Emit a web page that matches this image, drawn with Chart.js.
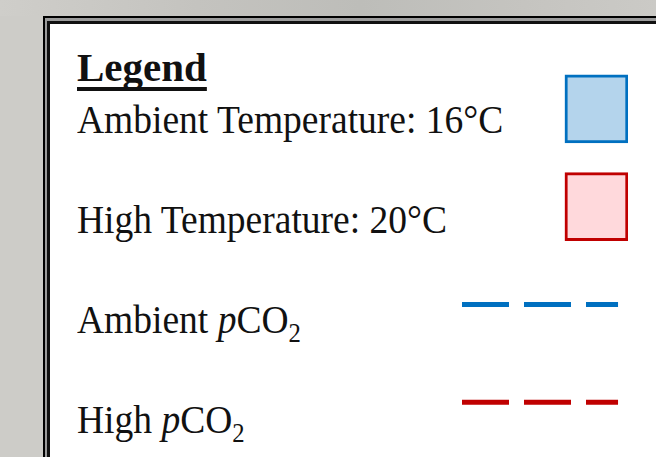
<!DOCTYPE html>
<html>
<head>
<meta charset="utf-8">
<title>Legend</title>
<script src="https://cdn.jsdelivr.net/npm/chart.js@4.4.1/dist/chart.umd.min.js"></script>
<style>
  html, body { margin: 0; padding: 0; width: 656px; height: 457px; overflow: hidden; }
  body {
    position: relative;
    background: #cdccc8;
    font-family: "Liberation Serif", "Times New Roman", serif;
    color: #111;
  }
  .topband {
    position: absolute; left: 0; top: 0; width: 656px; height: 16px;
    background: linear-gradient(90deg, #cfceca 0%, #c4c3bf 30%, #bdbdb9 55%, #c5c4c0 80%, #cbcac6 100%);
  }
  .frame {
    position: absolute; left: 43px; top: 16px; width: 700px; height: 500px;
    box-sizing: border-box; border: 2px solid #000; background: #9b9b9b;
    padding: 3px 0 0 2px;
  }
  .inner { width: 100%; height: 100%; box-sizing: border-box; border: 3px solid #111; background: #fff; }
  .row {
    position: absolute; left: 77px; white-space: nowrap;
    font-size: 41px; line-height: 41px;
    transform-origin: 0 0; transform: scaleX(0.915);
  }
  .title {
    font-weight: bold; transform: none;
    text-decoration: underline; text-decoration-thickness: 4px; text-underline-offset: 6px;
    text-decoration-skip-ink: none;
  }
  .sub { font-size: 27px; line-height: 0; position: relative; top: 9px; }
  #keys { position: absolute; left: 462px; top: 60px; width: 166px; height: 391px; }
</style>
</head>
<body>
<div class="topband"></div>
<div class="frame"><div class="inner"></div></div>
<div class="row title" style="top:47px">Legend</div>
<div id="labels"></div>
<div id="keys"><canvas id="keyChart"></canvas></div>

<script>
// legend rows, top to bottom
const rowLabels = [
  "Ambient Temperature: 16°C",
  "High Temperature: 20°C",
  "Ambient pCO2",
  "High pCO2",
];
// temperature swatches (floating bars on the key axis), none for the CO2 rows
const swatchSpans = [[0.62, 1], [0.62, 1], null, null];
// dashed CO2 keys, start/end on the key axis
const dashSpan = [0, 0.94];

const BLUE = "#0070c0", RED = "#c00000";
const swatchFill = ["#b4d4ec", "#ffd9dc", null, null];
const swatchLine = [BLUE, RED, null, null];

// text column: italic p + subscript 2 for pCO2
const rowTops = [99, 199, 299, 399];
const labelBox = document.getElementById("labels");
rowLabels.forEach((txt, i) => {
  const d = document.createElement("div");
  d.className = "row";
  d.style.top = rowTops[i] + "px";
  d.innerHTML = txt.replace("pCO2", '<i>p</i>CO<span class="sub">2</span>');
  labelBox.appendChild(d);
});

function dashData(label) {
  return dashSpan.map((x) => ({ x, y: label }));
}

new Chart(document.getElementById("keyChart"), {
  type: "bar",
  data: {
    labels: rowLabels,
    datasets: [
      {
        data: swatchSpans,
        backgroundColor: swatchFill,
        borderColor: swatchLine,
        borderWidth: 3,
        borderSkipped: false,
        barThickness: 68,
      },
      {
        type: "line",
        indexAxis: "y",
        data: dashData(rowLabels[2]),
        borderColor: BLUE,
        borderWidth: 5,
        borderDash: [47, 15],
        pointRadius: 0,
        fill: false,
      },
      {
        type: "line",
        indexAxis: "y",
        data: dashData(rowLabels[3]),
        borderColor: RED,
        borderWidth: 5,
        borderDash: [47, 15],
        pointRadius: 0,
        fill: false,
      },
    ],
  },
  options: {
    indexAxis: "y",
    responsive: true,
    maintainAspectRatio: false,
    animation: false,
    layout: { padding: 0 },
    plugins: { legend: { display: false }, tooltip: { enabled: false } },
    scales: {
      x: { type: "linear", min: 0, max: 1, display: false },
      y: { type: "category", offset: true, display: false },
    },
  },
});
</script>
</body>
</html>
